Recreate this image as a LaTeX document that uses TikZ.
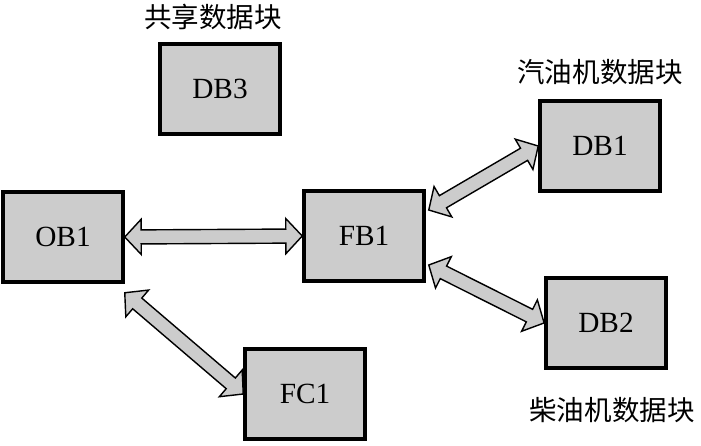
\documentclass[tikz,border=0pt]{standalone}
\usepackage{fontspec}
\setmainfont{Liberation Serif}
\newfontfamily\cjk{Noto Sans CJK SC}
\usetikzlibrary{calc}
\definecolor{blockgray}{RGB}{204,204,204}

\tikzset{
  block/.style={draw=black, line width=3pt, fill=blockgray, minimum width=3.6cm,
    minimum height=2.7cm, font=\fontsize{25}{27}\selectfont},
  caption/.style={font=\cjk\fontsize{23.5}{25}\selectfont},
  fatarrow/.style={draw=black, line width=1.2pt, fill=blockgray, line join=miter}
}

% block arrow with two heads from #1 to #2
\newcommand\fatlink[2]{%
  \draw[fatarrow] let \p1=(#1), \p2=(#2),
    \n1={atan2(\y2-\y1,\x2-\x1)}, \n2={veclen(\x2-\x1,\y2-\y1)} in
    [shift={(\p1)}, rotate=\n1]
    (0pt,0pt) -- (14pt,15pt) -- (14pt,6pt) -- ({(\n2-14)*1pt},6pt)
    -- ({(\n2-14)*1pt},15pt) -- ({\n2*1pt},0pt) -- ({(\n2-14)*1pt},-15pt)
    -- ({(\n2-14)*1pt},-6pt) -- (14pt,-6pt) -- (14pt,-15pt) -- cycle;}

\begin{document}
\begin{tikzpicture}[x=0.03cm, y=-0.03cm]
    \useasboundingbox (0,0) rectangle (701,445);

    \node[block] (DB3) at (220,89) {DB3};
    \node[block] (OB1) at (63,237) {OB1};
    \node[block] (FB1) at (364,236) {FB1};
    \node[block] (DB1) at (600,146) {DB1};
    \node[block] (DB2) at (606,323) {DB2};
    \node[block] (FC1) at (305,394) {FC1};

    \node[caption] (shared) at (213,17) {共享数据块};
    \node[caption] (petrol) at (600,72) {汽油机数据块};
    \node[caption] (diesel) at (612,410) {柴油机数据块};

    \coordinate (OB1corner) at ($(OB1.south east)+(0,9)$);
    \coordinate (FB1up) at ($(FB1.east)+(3,-26)$);
    \coordinate (FB1down) at ($(FB1.east)+(3,29)$);

    \fatlink{OB1.east}{FB1.west}
    \fatlink{OB1corner}{FC1.west}
    \fatlink{FB1up}{DB1.west}
    \fatlink{FB1down}{DB2.west}
\end{tikzpicture}
\end{document}
